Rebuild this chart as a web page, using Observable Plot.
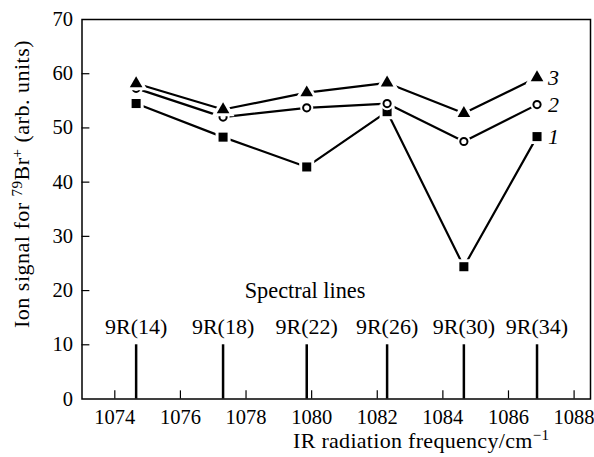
<!DOCTYPE html>
<html>
<head>
<meta charset="utf-8">
<script src="https://cdn.jsdelivr.net/npm/d3@7"></script>
<script src="https://cdn.jsdelivr.net/npm/@observablehq/plot@0.6"></script>
<style>
  html, body { margin: 0; padding: 0; background: #fff; }
  #chart { width: 594px; height: 457px; }
  #chart svg, #chart svg text { font-family: "Liberation Serif", "Times New Roman", Times, serif !important; }
</style>
</head>
<body>
<div id="chart"></div>
<script>
// ---- data ----
const frequencies = [1074.65, 1077.30, 1079.85, 1082.30, 1084.64, 1086.87];
const spectralLines = ["9R(14)", "9R(18)", "9R(22)", "9R(26)", "9R(30)", "9R(34)"];
const spectralHeight = [10, 10, 10, 10, 10, 10];
const series1 = [54.5, 48.3, 42.8, 53.0, 24.4, 48.4]; // squares
const series2 = [57.3, 52.0, 53.7, 54.5, 47.5, 54.3]; // open circles
const series3 = [58.2, 53.4, 56.5, 58.3, 52.7, 59.3]; // triangles
const seriesNames = ["1", "2", "3"];
const xTicks = [1074, 1076, 1078, 1080, 1082, 1084, 1086, 1088];
const yTicks = [0, 10, 20, 30, 40, 50, 60, 70];

// ---- tables ----
const allSeries = [series1, series2, series3];
const symbols = ["square", "circle", "triangle"];
const rows = allSeries.flatMap((s, k) => s.map((v, i) => ({x: frequencies[i], y: v, k})));
const lineRows = frequencies.map((f, i) => ({x: f, h: spectralHeight[i], name: spectralLines[i]}));
const lastRows = allSeries.map((s, k) => ({x: frequencies[frequencies.length - 1], y: s[s.length - 1], name: seriesNames[k]}));

const font = "Liberation Serif, Times New Roman, Times, serif";
const marks = [];

// spectral lines
marks.push(Plot.ruleX(lineRows, {x: "x", y1: 0, y2: "h", stroke: "black", strokeWidth: 2.5}));
marks.push(Plot.text(lineRows, {x: "x", y: 13.3, text: "name", fontSize: 22, fill: "black"}));
marks.push(Plot.text(["Spectral lines"], {x: 1079.8, y: 20, text: d => d, fontSize: 22.3, fill: "black"}));

// inward ticks
marks.push(Plot.ruleX(xTicks, {x: d => d, y1: 0, y2: 1.5, stroke: "black", strokeWidth: 1.2}));
marks.push(Plot.ruleY(yTicks.slice(1, -1), {y: d => d, x1: 1073, x2: 1073.24, stroke: "black", strokeWidth: 1.2}));

// series
allSeries.forEach((s, k) => {
  marks.push(Plot.line(rows.filter(r => r.k === k), {x: "x", y: "y", stroke: "black", strokeWidth: 2.2}));
});
const sizes = [5.1, 3.6, 4.7];
allSeries.forEach((s, k) => {
  const data = rows.filter(r => r.k === k);
  marks.push(Plot.dot(data, {x: "x", y: "y", symbol: symbols[k], r: sizes[k], fill: "white", stroke: "white", strokeWidth: 6}));
  if (k === 1) {
    marks.push(Plot.dot(data, {x: "x", y: "y", symbol: "circle", r: sizes[k], fill: "white", stroke: "black", strokeWidth: 2}));
  } else {
    marks.push(Plot.dot(data, {x: "x", y: "y", symbol: symbols[k], r: sizes[k], fill: "black", stroke: "none"}));
  }
});
marks.push(Plot.text(lastRows, {x: "x", y: "y", text: "name", dx: 11, textAnchor: "start", fontSize: 22, fontStyle: "italic", fill: "black"}));

// axes & frame
marks.push(Plot.axisY({ticks: yTicks, tickSize: 0, tickPadding: 9, fontSize: 20.5, tickFormat: d => String(d), label: null}));
marks.push(Plot.axisX({ticks: xTicks, tickSize: 0, tickPadding: 10, fontSize: 20.5, tickFormat: d => String(d), label: null}));
marks.push(Plot.frame({stroke: "black", strokeWidth: 1.5}));

const chart = Plot.plot({
  width: 594,
  height: 457,
  marginLeft: 81.5,
  marginRight: 4,
  marginTop: 19,
  marginBottom: 58.5,
  x: {domain: [1073, 1088.5]},
  y: {domain: [0, 70]},
  style: {fontFamily: font, fontSize: "21px", color: "black", background: "white"},
  marks
});
document.getElementById("chart").appendChild(chart);

// axis titles with superscripts
const svg = d3.select(chart);
const yl = svg.append("text")
  .attr("transform", "translate(28.5,328) rotate(-90)")
  .attr("text-anchor", "start")
  .attr("letter-spacing", 0.5)
  .attr("font-family", font).attr("font-size", 22).attr("fill", "black");
yl.append("tspan").text("Ion signal for ");
yl.append("tspan").attr("font-size", 15).attr("dy", "-7").text("79");
yl.append("tspan").attr("dy", "7").text("Br");
yl.append("tspan").attr("font-size", 15).attr("dy", "-7").text("+");
yl.append("tspan").attr("dy", "7").text(" (arb. units)");

const xl = svg.append("text")
  .attr("transform", "translate(293,448)")
  .attr("text-anchor", "start")
  .attr("letter-spacing", 0.3)
  .attr("font-family", font).attr("font-size", 22).attr("fill", "black");
xl.append("tspan").text("IR radiation frequency/cm");
xl.append("tspan").attr("font-size", 15).attr("dy", "-8").text("\u22121");
</script>
</body>
</html>
